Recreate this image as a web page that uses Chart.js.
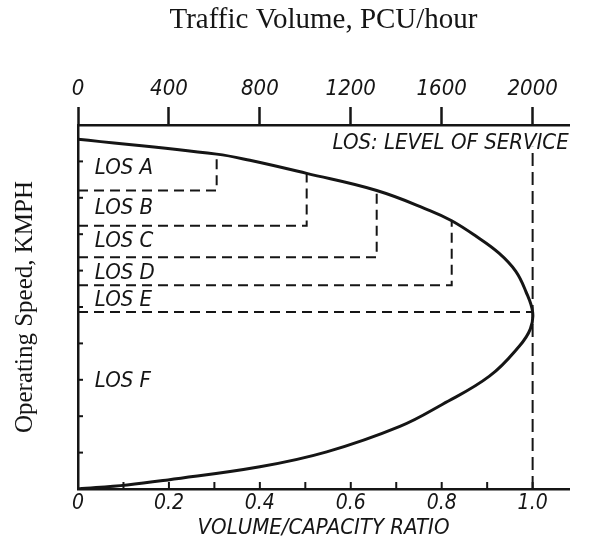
<!DOCTYPE html>
<html>
<head>
<meta charset="utf-8">
<script src="https://cdn.jsdelivr.net/npm/chart.js@4.4.1/dist/chart.umd.min.js"></script>
<style>
  body { margin: 0; background: #fff; }
  #wrap { width: 596px; height: 550px; }
</style>
</head>
<body>
<div id="wrap"><canvas id="losChart" width="596" height="550"></canvas></div>
<script>
// speed-flow curve: v/c ratio vs relative speed (0-100)
const curveRatio = [0, 0.305, 0.378, 0.503, 0.657, 0.774, 0.822, 0.875, 0.926, 0.963, 0.985, 1.0,
                    0.995, 0.971, 0.905, 0.802, 0.708, 0.547, 0.40, 0.198, 0.108, 0];
const curveSpeed = [96.1, 92.0, 90.3, 86.7, 82.0, 76.5, 73.7, 69.5, 64.8, 59.8, 54.3, 48.6,
                    44.0, 39.3, 31.0, 23.3, 17.2, 10.2, 6.1, 2.5, 1.1, 0];

// LOS boundaries (dashed steps)
const boundarySpeed = [82.0, 72.3, 63.7, 56.0, 48.6];
const boundaryRatio = [0.305, 0.503, 0.657, 0.822, 1.0];
const boundaryTopSpeed = [92.0, 86.7, 82.0, 73.7, 48.6];

// capacity line at v/c = 1.0
const capacityRatio = 1.0;
const capacitySpeed = [0, 94];

const losNames = ["LOS A", "LOS B", "LOS C", "LOS D", "LOS E", "LOS F"];
const losLabelSpeed = [88.1, 77.0, 68.1, 59.3, 51.8, 29.6];
const losLabelRatio = 0.037;
const noteText = "LOS: LEVEL OF SERVICE";
const noteRatio = 0.56;
const noteSpeed = 95.0;

const ratioTicks = [0, 0.1, 0.2, 0.3, 0.4, 0.5, 0.6, 0.7, 0.8, 0.9, 1.0];
const ratioLabels = ["0", "", "0.2", "", "0.4", "", "0.6", "", "0.8", "", "1.0"];
const volumeTicks = [0, 400, 800, 1200, 1600, 2000];
const volumeLabels = ["0", "400", "800", "1200", "1600", "2000"];
const speedTicks = [10, 20, 30, 40, 50, 60, 70, 80, 90];
const ratioMax = 1.08;
const pcuAtCapacity = 2000;

const INK = "#151515";
const HAND = '"Liberation Sans Narrow", "DejaVu Sans Condensed", "Liberation Sans", sans-serif';
const SERIF = '"Liberation Serif", "DejaVu Serif", serif';

const curveData = curveRatio.map((r, i) => ({ x: r, y: curveSpeed[i] }));

const boundarySets = boundaryRatio.map((r, i) => {
  const pts = [{ x: 0, y: boundarySpeed[i] }, { x: r, y: boundarySpeed[i] }];
  if (boundaryTopSpeed[i] > boundarySpeed[i]) pts.push({ x: r, y: boundaryTopSpeed[i] });
  return {
    data: pts,
    showLine: true,
    borderColor: INK,
    borderWidth: 2,
    borderDash: [10, 6],
    pointRadius: 0,
    tension: 0,
  };
});

// inward tick marks + text notes
const losPlugin = {
  id: "losText",
  afterDraw(chart) {
    const { ctx, chartArea } = chart;
    const x = chart.scales.x;
    const y = chart.scales.y;
    ctx.save();
    ctx.strokeStyle = INK;
    ctx.lineWidth = 2;
    ratioTicks.forEach((v) => {
      if (v <= 0) return;
      const px = x.getPixelForValue(v);
      ctx.beginPath();
      ctx.moveTo(px, chartArea.bottom);
      ctx.lineTo(px, chartArea.bottom - 7);
      ctx.stroke();
    });
    speedTicks.forEach((v) => {
      const py = y.getPixelForValue(v);
      ctx.beginPath();
      ctx.moveTo(chartArea.left, py);
      ctx.lineTo(chartArea.left + 5, py);
      ctx.stroke();
    });

    ctx.fillStyle = INK;
    ctx.font = "italic 22px " + HAND;
    ctx.textBaseline = "middle";
    ctx.textAlign = "left";
    losNames.forEach((name, i) => {
      ctx.fillText(name, x.getPixelForValue(losLabelRatio), y.getPixelForValue(losLabelSpeed[i]));
    });
    ctx.fillText(noteText, x.getPixelForValue(noteRatio), y.getPixelForValue(noteSpeed));
    ctx.restore();
  },
};

const ctx = document.getElementById("losChart").getContext("2d");
new Chart(ctx, {
  type: "scatter",
  data: {
    datasets: [
      {
        data: curveData,
        showLine: true,
        borderColor: INK,
        borderWidth: 3,
        pointRadius: 0,
        tension: 0.4,
      },
      ...boundarySets,
      {
        data: capacitySpeed.map((s) => ({ x: capacityRatio, y: s })),
        showLine: true,
        borderColor: INK,
        borderWidth: 2,
        borderDash: [13, 6],
        pointRadius: 0,
        tension: 0,
      },
    ],
  },
  options: {
    responsive: false,
    animation: false,
    devicePixelRatio: 1,
    layout: { padding: { left: 0, right: 27, top: 0, bottom: 0 } },
    plugins: {
      legend: { display: false },
      tooltip: { enabled: false },
    },
    scales: {
      x: {
        type: "linear",
        position: "bottom",
        min: 0,
        max: ratioMax,
        afterBuildTicks: (scale) => {
          scale.ticks = ratioTicks.map((v) => ({ value: v }));
        },
        afterFit: (scale) => {
          scale.height = 61;
        },
        ticks: {
          autoSkip: false,
          maxRotation: 0,
          padding: 2,
          color: INK,
          font: { family: HAND, size: 21, style: "italic" },
          callback: (v, i) => ratioLabels[i],
        },
        grid: { drawOnChartArea: false, drawTicks: false },
        border: { display: true, width: 2.5, color: INK },
        title: {
          display: true,
          text: "VOLUME/CAPACITY RATIO",
          color: INK,
          font: { family: HAND, size: 22, style: "italic" },
          padding: { top: 0, bottom: 9 },
        },
      },
      x2: {
        type: "linear",
        position: "top",
        min: 0,
        max: ratioMax * pcuAtCapacity,
        afterBuildTicks: (scale) => {
          scale.ticks = volumeTicks.map((v) => ({ value: v }));
        },
        afterFit: (scale) => {
          scale.height = 125;
        },
        ticks: {
          autoSkip: false,
          maxRotation: 0,
          padding: 5,
          color: INK,
          font: { family: HAND, size: 22, style: "italic" },
          callback: (v, i) => volumeLabels[i],
        },
        grid: {
          drawOnChartArea: false,
          drawTicks: true,
          tickLength: 18,
          tickWidth: 2.5,
          tickColor: INK,
        },
        border: { display: true, width: 2.5, color: INK },
        title: {
          display: true,
          text: "Traffic Volume, PCU/hour",
          color: INK,
          font: { family: SERIF, size: 29, weight: "normal" },
          padding: { top: 3, bottom: 0 },
        },
      },
      y: {
        type: "linear",
        min: 0,
        max: 100,
        afterFit: (scale) => {
          scale.width = 78;
        },
        ticks: { stepSize: 10, display: false },
        grid: { drawOnChartArea: false, drawTicks: false },
        border: { display: true, width: 2.5, color: INK },
        title: {
          display: true,
          text: "Operating Speed, KMPH",
          color: INK,
          font: { family: SERIF, size: 25, weight: "normal" },
          padding: { top: 10, bottom: 0 },
        },
      },
    },
  },
  plugins: [losPlugin],
});
</script>
</body>
</html>
